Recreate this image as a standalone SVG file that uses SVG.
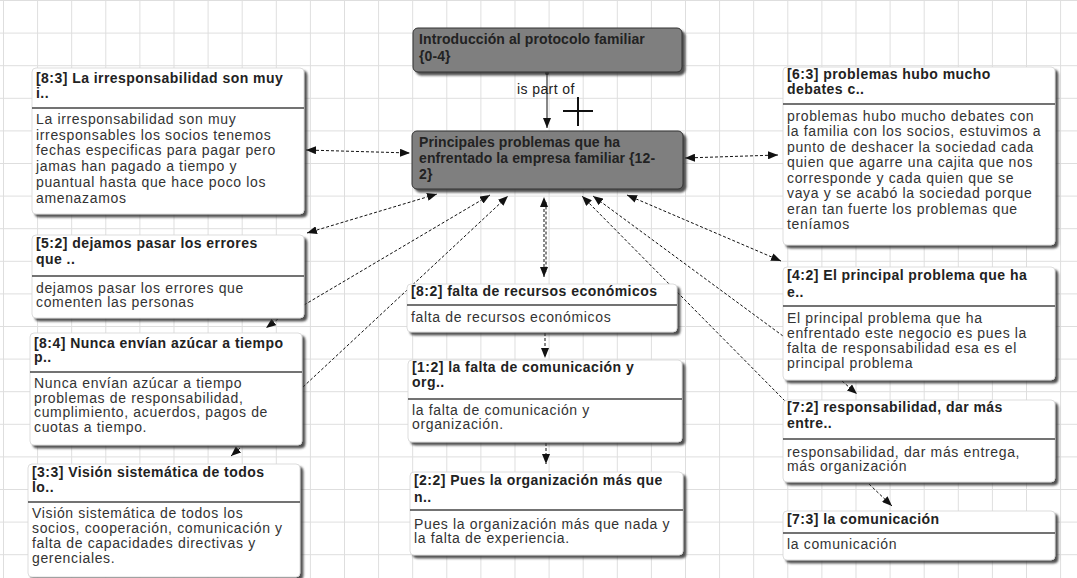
<svg xmlns="http://www.w3.org/2000/svg" width="1077" height="578" viewBox="0 0 1077 578">
  <defs>
    <pattern id="grid" width="34.1" height="32.6" patternUnits="userSpaceOnUse" x="3" y="0">
      <path d="M0.5,0 V32.6 M0,0.5 H34.1" fill="none" stroke="#dedede" stroke-width="1"/>
    </pattern>
    <marker id="arrow" viewBox="0 0 10 8" refX="10" refY="4" markerWidth="10" markerHeight="8" markerUnits="userSpaceOnUse" orient="auto-start-reverse">
      <path d="M0,0 L10,4 L0,8 z" fill="#111"/>
    </marker>
    <marker id="dot" viewBox="0 0 4 4" refX="2" refY="2" markerWidth="4" markerHeight="4" markerUnits="userSpaceOnUse">
      <circle cx="2" cy="2" r="2" fill="#111"/>
    </marker>
    <filter id="shadow" x="-5%" y="-5%" width="115%" height="120%">
      <feDropShadow dx="3" dy="3" stdDeviation="0.8" flood-color="#333" flood-opacity="0.85"/>
    </filter>
    <style>
      .box { fill: #ffffff; stroke: #d4d4d4; stroke-width: 0.8; filter: url(#shadow); }
      .dark { fill: #7f7f7f; stroke: #333; stroke-width: 1; filter: url(#shadow); }
      .rule { stroke: #444; stroke-width: 1.5; }
      .head { font-family: "Liberation Sans", Arial, sans-serif; font-size: 14px; font-weight: bold; fill: #222; letter-spacing: 0.45px; }
      .body { font-family: "Liberation Sans", Arial, sans-serif; font-size: 14px; fill: #333; letter-spacing: 0.65px; }
      .core { font-family: "Liberation Sans", Arial, sans-serif; font-size: 14px; font-weight: bold; fill: #222; letter-spacing: 0.1px; }
      .label { font-family: "Liberation Sans", Arial, sans-serif; font-size: 14px; fill: #222; letter-spacing: 0.4px; }
      .dash { fill: none; stroke: #111; stroke-width: 1; stroke-dasharray: 3 2; }
      .solid { fill: none; stroke: #111; stroke-width: 1; }
      .both { marker-start: url(#arrow); marker-end: url(#arrow); }
      .end { marker-end: url(#arrow); }
    </style>
  </defs>

  <!-- background grid -->
  <rect x="0" y="0" width="1077" height="578" fill="#ffffff"/>
  <rect x="0" y="0" width="1077" height="578" fill="url(#grid)"/>

  <!-- connectors -->
  <g id="connectors">
    <path class="dash both" d="M306,150 L410,153"/>
    <path class="dash both" d="M685,158 L778,155"/>
    <path class="dash both" d="M307,233 L437,194"/>
    <path class="dash end" d="M304,305 L490,195"/>
    <path class="dash end" d="M303,387 L508,196"/>
    <path class="dash both" d="M544,277 L544,197"/>
    <path class="dash" d="M546,272 L546,202" stroke-dashoffset="2.5"/>
    <path class="dash end" d="M785,401 L582,196"/>
    <path class="dash end" d="M783,336 L593,196"/>
    <path class="dash both" d="M781,261 L627,195"/>
    <path class="solid end" d="M547,73 L547,128" marker-start="url(#dot)"/>
    <path class="dash end" d="M278,319 L266,328"/>
    <path class="dash end" d="M240,448 L231,456"/>
    <path class="dash end" d="M545,333 L545,358"/>
    <path class="dash end" d="M546,443 L546,464"/>
    <path class="dash end" d="M842,381 L857,394"/>
    <path class="dash end" d="M869,484 L892,506"/>
    <text class="label" x="517" y="94">is part of</text>
    <path d="M563,111 H593 M578,97 V126" stroke="#111" stroke-width="2" fill="none"/>
  </g>

  <!-- root topic -->
  <g id="intro">
    <rect class="dark" x="413" y="28" width="269" height="44" rx="5"/>
    <text class="core" x="419" y="44">Introducción al protocolo familiar</text>
    <text class="core" x="419" y="61">{0-4}</text>
  </g>

  <!-- central topic -->
  <g id="principales">
    <rect class="dark" x="412" y="131" width="271" height="58" rx="5"/>
    <text class="core" x="419" y="147">Principales problemas que ha</text>
    <text class="core" x="419" y="163">enfrentado la empresa familiar {12-</text>
    <text class="core" x="419" y="179">2}</text>
  </g>

  <!-- quotations -->
  <g id="q8-3">
    <rect class="box" x="32" y="68" width="272" height="146" rx="4"/>
    <text class="head" x="36" y="83">[8:3] La irresponsabilidad son muy</text>
    <text class="head" x="36" y="98">i..</text>
    <line class="rule" x1="32" y1="108" x2="304" y2="108"/>
    <text class="body" x="36" y="124">La irresponsabilidad son muy</text>
    <text class="body" x="36" y="140">irresponsables los socios tenemos</text>
    <text class="body" x="36" y="155">fechas especificas para pagar pero</text>
    <text class="body" x="36" y="171">jamas han pagado a tiempo y</text>
    <text class="body" x="36" y="187">puantual hasta que hace poco los</text>
    <text class="body" x="36" y="203">amenazamos</text>
  </g>

  <g id="q6-3">
    <rect class="box" x="783" y="67" width="272" height="178" rx="4"/>
    <text class="head" x="787" y="79">[6:3] problemas hubo mucho</text>
    <text class="head" x="787" y="94">debates c..</text>
    <line class="rule" x1="783" y1="104" x2="1055" y2="104"/>
    <text class="body" x="787" y="121">problemas hubo mucho debates con</text>
    <text class="body" x="787" y="136">la familia con los socios, estuvimos a</text>
    <text class="body" x="787" y="152">punto de deshacer la sociedad cada</text>
    <text class="body" x="787" y="167">quien que agarre una cajita que nos</text>
    <text class="body" x="787" y="183">corresponde y cada quien que se</text>
    <text class="body" x="787" y="198">vaya y se acabó la sociedad porque</text>
    <text class="body" x="787" y="214">eran tan fuerte los problemas que</text>
    <text class="body" x="787" y="229">teníamos</text>
  </g>

  <g id="q5-2">
    <rect class="box" x="32" y="235" width="272" height="83" rx="4"/>
    <text class="head" x="36" y="248">[5:2] dejamos pasar los errores</text>
    <text class="head" x="36" y="264">que ..</text>
    <line class="rule" x1="32" y1="276" x2="304" y2="276"/>
    <text class="body" x="36" y="293">dejamos pasar los errores que</text>
    <text class="body" x="36" y="307">comenten las personas</text>
  </g>

  <g id="q8-4">
    <rect class="box" x="30" y="333" width="272" height="112" rx="4"/>
    <text class="head" x="34" y="348">[8:4] Nunca envían azúcar a tiempo</text>
    <text class="head" x="34" y="362">p..</text>
    <line class="rule" x1="30" y1="372" x2="302" y2="372"/>
    <text class="body" x="34" y="388">Nunca envían azúcar a tiempo</text>
    <text class="body" x="34" y="403">problemas de responsabilidad,</text>
    <text class="body" x="34" y="417">cumplimiento, acuerdos, pagos de</text>
    <text class="body" x="34" y="432">cuotas a tiempo.</text>
  </g>

  <g id="q3-3">
    <rect class="box" x="28" y="464" width="272" height="113" rx="4"/>
    <text class="head" x="32" y="477">[3:3] Visión sistemática de todos</text>
    <text class="head" x="32" y="492">lo..</text>
    <line class="rule" x1="28" y1="502" x2="300" y2="502"/>
    <text class="body" x="32" y="518">Visión sistemática de todos los</text>
    <text class="body" x="32" y="533">socios, cooperación, comunicación y</text>
    <text class="body" x="32" y="548">falta de capacidades directivas y</text>
    <text class="body" x="32" y="563">gerenciales.</text>
  </g>

  <g id="q8-2">
    <rect class="box" x="407" y="284" width="270" height="48" rx="4"/>
    <text class="head" x="411" y="296">[8:2] falta de recursos económicos</text>
    <line class="rule" x1="407" y1="305" x2="677" y2="305"/>
    <text class="body" x="411" y="322">falta de recursos económicos</text>
  </g>

  <g id="q1-2">
    <rect class="box" x="408" y="360" width="274" height="82" rx="4"/>
    <text class="head" x="412" y="372">[1:2] la falta de comunicación y</text>
    <text class="head" x="412" y="387">org..</text>
    <line class="rule" x1="408" y1="399" x2="682" y2="399"/>
    <text class="body" x="412" y="415">la falta de comunicación y</text>
    <text class="body" x="412" y="429">organización.</text>
  </g>

  <g id="q2-2">
    <rect class="box" x="410" y="472" width="273" height="83" rx="4"/>
    <text class="head" x="414" y="485">[2:2] Pues la organización más que</text>
    <text class="head" x="414" y="502">n..</text>
    <line class="rule" x1="410" y1="510" x2="683" y2="510"/>
    <text class="body" x="414" y="529">Pues la organización más que nada y</text>
    <text class="body" x="414" y="543">la falta de experiencia.</text>
  </g>

  <g id="q4-2">
    <rect class="box" x="783" y="267" width="272" height="113" rx="4"/>
    <text class="head" x="787" y="280">[4:2] El principal problema que ha</text>
    <text class="head" x="787" y="297">e..</text>
    <line class="rule" x1="783" y1="306" x2="1055" y2="306"/>
    <text class="body" x="787" y="323">El principal problema que ha</text>
    <text class="body" x="787" y="338">enfrentado este negocio es pues la</text>
    <text class="body" x="787" y="353">falta de responsabilidad esa es el</text>
    <text class="body" x="787" y="368">principal problema</text>
  </g>

  <g id="q7-2">
    <rect class="box" x="783" y="400" width="272" height="82" rx="4"/>
    <text class="head" x="787" y="412">[7:2] responsabilidad, dar más</text>
    <text class="head" x="787" y="428">entre..</text>
    <line class="rule" x1="783" y1="439" x2="1055" y2="439"/>
    <text class="body" x="787" y="457">responsabilidad, dar más entrega,</text>
    <text class="body" x="787" y="471">más organización</text>
  </g>

  <g id="q7-3">
    <rect class="box" x="783" y="511" width="272" height="49" rx="4"/>
    <text class="head" x="787" y="524">[7:3] la comunicación</text>
    <line class="rule" x1="783" y1="533" x2="1055" y2="533"/>
    <text class="body" x="787" y="549">la comunicación</text>
  </g>
</svg>
